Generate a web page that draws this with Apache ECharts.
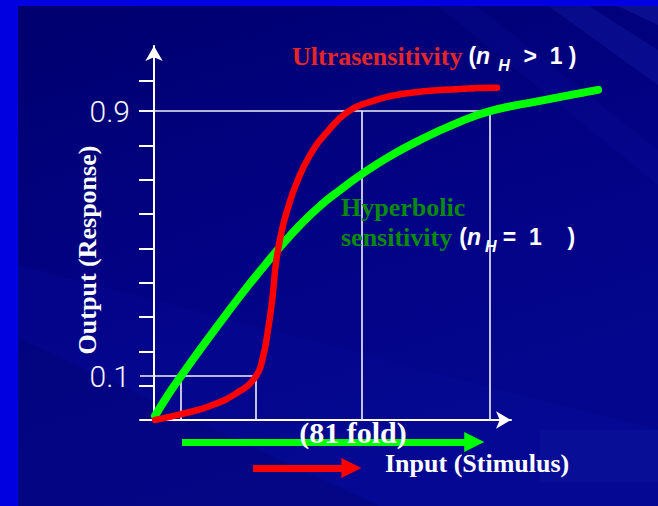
<!DOCTYPE html>
<html><head><meta charset="utf-8">
<script src="https://cdn.jsdelivr.net/npm/echarts@6/dist/echarts.min.js"></script>
<style>html,body{margin:0;padding:0;background:#00007a}#c{width:658px;height:506px}</style>
</head><body><div id="c"></div>
<script>
// ---- data ----
const hyperbolicX = [0.29, 4.0, 7.71, 13.14, 18.86, 24.57, 30.29, 36.0, 41.71, 47.43, 53.14, 59.43, 67.43, 76.0, 86.0, 96.0, 110.29, 126.86];
const hyperbolicY = [0.012, 0.073, 0.128, 0.205, 0.284, 0.361, 0.434, 0.504, 0.568, 0.624, 0.670, 0.717, 0.769, 0.816, 0.863, 0.900, 0.930, 0.962];
const ultraX = [0.29, 7.71, 16.0, 23.71, 29.14, 31.14, 32.57, 33.86, 34.86, 36.43, 38.0, 40.86, 44.57, 49.43, 55.43, 61.71, 71.14, 87.43, 98.0];
const ultraY = [0.0, 0.017, 0.041, 0.079, 0.128, 0.184, 0.262, 0.358, 0.458, 0.548, 0.609, 0.694, 0.772, 0.839, 0.899, 0.927, 0.951, 0.965, 0.968];
const guideLabels = ['0.1', '0.9'];
const guideLevels = [0.128, 0.9];
const hyperbolicGuideX = [7.71, 96.0];
const ultraGuideX = [29.14, 59.43];
const hyperbolicArrow = [8.0, 91.5];
const ultraArrow = [28.3, 56.4];
const yTicks = [0.1, 0.2, 0.3, 0.4, 0.5, 0.6, 0.7, 0.8, 0.9, 0.99];
const arrowRows = ['hyperbolic', 'ultra'];

// ---- build ----
const xMin = -4, xMax = 102, yMax = 1.09;
const pxPerUnit = (658 - 140 - 147) / (xMax - xMin);   // horizontal scale of the main grid
const curveXMax = 130;                                   // curves run past the axis arrow
const curveGridWidth = (curveXMax - xMin) * pxPerUnit;   // same scale, wider grid

const guideLines = [];
guideLevels.forEach((lv, i) => {
  guideLines.push({ coords: [[xMin, lv], [Math.max(hyperbolicGuideX[i], ultraGuideX[i]), lv]] });
  guideLines.push({ coords: [[hyperbolicGuideX[i], 0], [hyperbolicGuideX[i], lv]] });
  guideLines.push({ coords: [[ultraGuideX[i], 0], [ultraGuideX[i], lv]] });
});
const zip = (xs, ys) => xs.map((x, i) => [x, ys[i]]);

const chart = echarts.init(document.getElementById('c'), null, { renderer: 'svg' });
const axisStyle = { color: '#ffffff', width: 2 };
const serif = '"Liberation Serif", "Times New Roman", serif';
const sans = '"Liberation Sans", Arial, sans-serif';

const wTok = { fill: '#ffffff', fontFamily: sans, fontWeight: 'bold', fontSize: 23 };
const nRich = {
  w: wTok,
  n: Object.assign({}, wTok, { fontStyle: 'italic' }),
  s: Object.assign({}, wTok, { fontStyle: 'italic', fontSize: 16, padding: [18, 1, 0, 8] }),
  s2: Object.assign({}, wTok, { fontStyle: 'italic', fontSize: 16, padding: [18, 0, 0, 4] })
};

chart.setOption({
  backgroundColor: '#00007a',
  animation: false,
  grid: [
    { left: 140, right: 147, top: 46, bottom: 86 },
    { left: 140, right: 147, top: 429, height: 52 },
    { left: 140, width: curveGridWidth, top: 46, bottom: 86 }
  ],
  xAxis: [
    { type: 'value', gridIndex: 0, min: xMin, max: xMax,
      axisLine: { show: true, onZero: true, symbol: ['none', 'arrow'], symbolSize: [13, 15], lineStyle: axisStyle },
      axisTick: { show: false }, axisLabel: { show: false }, splitLine: { show: false } },
    { type: 'value', gridIndex: 1, min: xMin, max: xMax, show: false },
    { type: 'value', gridIndex: 2, min: xMin, max: curveXMax, show: false }
  ],
  yAxis: [
    { type: 'value', gridIndex: 0, min: 0, max: yMax,
      axisLine: { show: true, onZero: true, symbol: ['none', 'arrow'], symbolSize: [13, 15], lineStyle: axisStyle },
      axisTick: { show: true, customValues: yTicks, length: 15, lineStyle: { color: '#ffffff', width: 2 } },
      axisLabel: { show: true, customValues: guideLevels, margin: 10,
        formatter: v => { let b = 0; guideLevels.forEach((g, i) => { if (Math.abs(g - v) < Math.abs(guideLevels[b] - v)) b = i; }); return guideLabels[b]; },
        color: '#f4f4ff', fontFamily: 'Roboto', fontWeight: 300, fontSize: 30 },
      splitLine: { show: false } },
    { type: 'category', gridIndex: 1, data: arrowRows, inverse: true, show: false },
    { type: 'value', gridIndex: 2, min: 0, max: yMax, show: false }
  ],
  series: [
    { type: 'lines', coordinateSystem: 'cartesian2d', xAxisIndex: 0, yAxisIndex: 0, silent: true, z: 2,
      lineStyle: { color: '#f2f2fa', width: 1.6, opacity: 1 }, data: guideLines },
    { type: 'line', name: 'Hyperbolic sensitivity', xAxisIndex: 2, yAxisIndex: 2, data: zip(hyperbolicX, hyperbolicY),
      showSymbol: false, smooth: 0.5, z: 3, silent: true,
      lineStyle: { color: '#00ff00', width: 8, cap: 'round' } },
    { type: 'line', name: 'Ultrasensitivity', xAxisIndex: 2, yAxisIndex: 2, data: zip(ultraX, ultraY),
      showSymbol: false, smooth: 0.5, z: 4, silent: true,
      lineStyle: { color: '#ff0000', width: 6.5, cap: 'round' } },
    { type: 'lines', coordinateSystem: 'cartesian2d', xAxisIndex: 1, yAxisIndex: 1, silent: true, z: 3,
      symbol: ['none', 'triangle'], symbolSize: [19, 20],
      data: [
        { coords: [[hyperbolicArrow[0], 0], [hyperbolicArrow[1], 0]], lineStyle: { color: '#00ff00' } },
        { coords: [[ultraArrow[0], 1], [ultraArrow[1], 1]], lineStyle: { color: '#ff0000' } }
      ],
      lineStyle: { width: 7, opacity: 1 } }
  ],
  graphic: [
    { type: 'rect', z: -100, silent: true, shape: { x: 0, y: 0, width: 658, height: 506 },
      style: { fill: { type: 'linear', x: 0, y: 0, x2: 0.4, y2: 1, colorStops: [
        { offset: 0, color: '#00006e' }, { offset: 0.55, color: '#020284' }, { offset: 1, color: '#04078e' } ] } } },
    { type: 'polygon', z: -99, silent: true, shape: { points: [[0, 260], [658, 430], [658, 506], [0, 506]] }, style: { fill: 'rgba(10,20,170,0.16)' } },
    { type: 'polygon', z: -99, silent: true, shape: { points: [[0, 330], [380, 506], [0, 506]] }, style: { fill: 'rgba(0,0,80,0.18)' } },
    { type: 'polygon', z: -99, silent: true, shape: { points: [[540, 0], [580, 0], [658, 50], [658, 85]] }, style: { fill: 'rgba(50,70,220,0.16)' } },
    { type: 'polygon', z: -99, silent: true, shape: { points: [[605, 0], [658, 0], [658, 25]] }, style: { fill: 'rgba(60,80,230,0.18)' } },
    { type: 'polygon', z: -99, silent: true, shape: { points: [[430, 0], [470, 0], [658, 150], [658, 185]] }, style: { fill: 'rgba(30,40,190,0.10)' } },
    { type: 'rect', z: -98, silent: true, shape: { x: 540, y: 430, width: 118, height: 52 }, style: { fill: 'rgba(50,80,210,0.09)' } },
    { type: 'rect', z: -97, silent: true, shape: { x: 0, y: 0, width: 18, height: 506 }, style: { fill: '#0000e0' } },
    { type: 'rect', z: -97, silent: true, shape: { x: 0, y: 0, width: 658, height: 6 }, style: { fill: '#0000e0' } },

    { type: 'text', z: 100, silent: true, x: 292, y: 56,
      style: { text: '{r|Ultrasensitivity}{p|(}{n|n}{s|H}{w|  >  1 )}', verticalAlign: 'middle',
        rich: Object.assign({ r: { fill: '#e52626', fontFamily: serif, fontWeight: 'bold', fontSize: 26 },
                              p: Object.assign({}, wTok, { padding: [0, 0, 0, 6] }) }, nRich) } },
    { type: 'text', z: 100, silent: true, x: 341, y: 207,
      style: { text: 'Hyperbolic', fill: '#0a8a0a', fontFamily: serif, fontWeight: 'bold', fontSize: 26, verticalAlign: 'middle' } },
    { type: 'text', z: 100, silent: true, x: 341, y: 237,
      style: { text: '{g|sensitivity}{p|(}{n|n}{s2|H}{w| =  1    )}', verticalAlign: 'middle',
        rich: Object.assign({ g: { fill: '#0a8a0a', fontFamily: serif, fontWeight: 'bold', fontSize: 26 },
                              p: Object.assign({}, wTok, { padding: [0, 0, 0, 7] }) }, nRich) } },
    { type: 'text', z: 100, silent: true, x: 353, y: 432,
      style: { text: '(81 fold)', fill: '#ffffff', fontFamily: serif, fontWeight: 'bold', fontSize: 30, align: 'center', verticalAlign: 'middle' } },
    { type: 'text', z: 100, silent: true, x: 385, y: 463,
      style: { text: 'Input (Stimulus)', fill: '#ffffff', fontFamily: serif, fontWeight: 'bold', fontSize: 26, verticalAlign: 'middle' } },
    { type: 'text', z: 100, silent: true, x: 87, y: 250, rotation: Math.PI / 2,
      style: { text: 'Output (Response)', fill: '#ffffff', fontFamily: serif, fontWeight: 'bold', fontSize: 26, align: 'center', verticalAlign: 'middle' } }
  ]
});
</script>
</body></html>
